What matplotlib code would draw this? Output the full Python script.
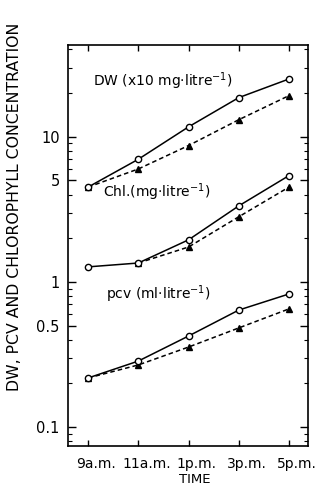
import matplotlib
matplotlib.use("Agg")
import matplotlib.pyplot as plt
import matplotlib.transforms as mtransforms
from matplotlib.ticker import FixedLocator, FixedFormatter, LogLocator, NullFormatter

# Sampling times
times = ["9a.m.", "11a.m.", "1p.m.", "3p.m.", "5p.m."]

# Dry weight (x10 mg/litre)
dw_open = [4.5, 7.0, 11.7, 18.6, 25.0]
dw_closed = [4.5, 6.0, 8.7, 13.1, 19.2]

# Chlorophyll (mg/litre) - closed series starts at 11 a.m.
chl_open = [1.27, 1.35, 1.95, 3.34, 5.4]
chl_closed = [1.35, 1.74, 2.81, 4.5]

# Packed cell volume (ml/litre)
pcv_open = [0.218, 0.285, 0.424, 0.64, 0.826]
pcv_closed = [0.218, 0.268, 0.356, 0.482, 0.652]

ytick_vals = [0.1, 0.5, 1, 5, 10]
ytick_labels = ["0.1", "0.5", "1", "5", "10"]

plt.rcParams["font.family"] = ["DejaVu Sans"]

fig = plt.figure(figsize=(3.27, 4.87), dpi=100)
ax = fig.add_axes([0.208, 0.084, 0.734, 0.824])

x = list(range(len(times)))

for op, cl, start in [(dw_open, dw_closed, 0), (chl_open, chl_closed, 1), (pcv_open, pcv_closed, 0)]:
    ax.plot(x[start:], cl, linestyle=(0, (3, 2)), color="black", linewidth=1.1,
            marker="^", markersize=4.5, markerfacecolor="black", zorder=2)
    ax.plot(x, op, linestyle="-", color="black", linewidth=1.1,
            marker="o", markersize=4.5, markerfacecolor="white", markeredgewidth=1.0, zorder=3)

ax.set_yscale("log")
ax.set_ylim(0.074, 43)
ax.set_xlim(-0.4, 4.38)

ax.yaxis.set_major_locator(FixedLocator(ytick_vals))
ax.yaxis.set_major_formatter(FixedFormatter(ytick_labels))
ax.yaxis.set_minor_locator(LogLocator(base=10, subs=[2, 3, 4, 6, 7, 8, 9]))
ax.yaxis.set_minor_formatter(NullFormatter())

ax.set_xticks(x)
ax.set_xticklabels(times, fontsize=10)
ax.tick_params(axis="both", which="both", direction="in", top=True, right=True)
ax.tick_params(axis="y", which="major", length=6, width=1.0, labelsize=10.5, pad=6)
ax.tick_params(axis="y", which="minor", length=3, width=0.8)
ax.tick_params(axis="x", which="major", length=4, width=1.0, pad=8)

# x tick labels sit a little to the right of their ticks
shift = mtransforms.ScaledTranslation(8 / 100, 0, fig.dpi_scale_trans)
for lab in ax.get_xticklabels():
    lab.set_transform(lab.get_transform() + shift)

for s in ax.spines.values():
    s.set_linewidth(1.2)

ax.text(0.1, 24, "DW (x10 mg\u00b7litre$^{-1}$)", fontsize=10, va="center")
ax.text(0.3, 4.18, "Chl.(mg\u00b7litre$^{-1}$)", fontsize=10, va="center")
ax.text(0.36, 0.826, "pcv (ml\u00b7litre$^{-1}$)", fontsize=10, va="center")

ax.set_xlabel("TIME", fontsize=9.5)
ax.xaxis.set_label_coords(0.53, -0.066)
ax.set_ylabel("DW, PCV AND CHLOROPHYLL CONCENTRATION", fontsize=11.3)
ax.yaxis.set_label_coords(-0.19, 0.596)

fig.savefig("out.png", dpi=100)
